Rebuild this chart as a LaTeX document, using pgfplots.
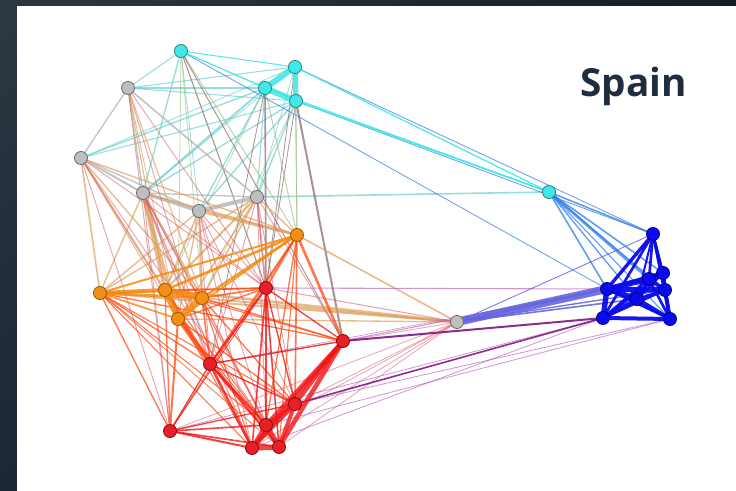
\documentclass[border=0pt]{standalone}
\usepackage{pgfplots}
\pgfplotsset{compat=1.18}
\usetikzlibrary{shadings}
\usepackage{fontspec}
\newfontfamily\titlefont{Open Sans}
\definecolor{bgUL}{RGB}{46,56,67}
\definecolor{bgLL}{RGB}{28,38,52}
\definecolor{bgUR}{RGB}{19,28,40}
\definecolor{bgLR}{RGB}{16,24,36}
\definecolor{ccC}{HTML}{3EE6E6}
\definecolor{cgC}{HTML}{6CCFCF}
\definecolor{cbC}{HTML}{2F7DE8}
\definecolor{coC}{HTML}{9FC08A}
\definecolor{crC}{HTML}{8A6F6F}
\definecolor{ggC}{HTML}{B5B5B5}
\definecolor{goC}{HTML}{DF9F5C}
\definecolor{grC}{HTML}{D65A6C}
\definecolor{gbC}{HTML}{6464E0}
\definecolor{ooC}{HTML}{F58A10}
\definecolor{orC}{HTML}{FF4A10}
\definecolor{rrC}{HTML}{F21414}
\definecolor{rbC}{HTML}{7A087A}
\definecolor{rblC}{HTML}{B050B8}
\definecolor{bbC}{HTML}{0A0AEE}
\definecolor{titleC}{HTML}{1F2D3F}
\definecolor{nC}{RGB}{64,232,232}\definecolor{nCd}{RGB}{40,130,130}
\definecolor{nG}{RGB}{190,190,190}\definecolor{nGd}{RGB}{105,105,105}
\definecolor{nO}{RGB}{243,144,20}\definecolor{nOd}{RGB}{150,85,15}
\definecolor{nR}{RGB}{232,30,40}\definecolor{nRd}{RGB}{130,15,15}
\definecolor{nB}{RGB}{10,10,238}\definecolor{nBd}{RGB}{0,0,120}
\pgfplotsset{
 cc/.style={color=ccC,opacity=0.85},
 cg/.style={color=cgC,opacity=0.7},
 cb/.style={color=cbC,opacity=0.75},
 co/.style={color=coC,opacity=0.65},
 cr/.style={color=crC,opacity=0.75},
 gg/.style={color=ggC,opacity=0.8},
 go/.style={color=goC,opacity=0.7},
 gr/.style={color=grC,opacity=0.55},
 gb/.style={color=gbC,opacity=0.9},
 oo/.style={color=ooC,opacity=0.85},
 or/.style={color=orC,opacity=0.75},
 rr/.style={color=rrC,opacity=0.8},
 rb/.style={color=rbC,opacity=0.85},
 rbl/.style={color=rblC,opacity=0.6},
 bb/.style={color=bbC,opacity=0.95},
}
\newcommand\E[3]{\addplot[#1,line width=#2pt] coordinates {#3};}
\begin{document}
\begin{tikzpicture}
\shade[upper left=bgUL, lower left=bgLL, upper right=bgUR, lower right=bgLR]
  (0,0) rectangle (552pt,368.25pt);
\fill[white] (12.75pt,0) rectangle (552pt,363.75pt);
\begin{axis}[at={(0,0)}, anchor=south west, scale only axis, width=552pt, height=368.25pt,
  xmin=0, xmax=736, ymin=0, ymax=491, y dir=reverse, axis lines=none, clip=false]
% cyan-gray
\E{cg}{0.8}{(128,88)(295,67)}
\E{cg}{1}{(128,88)(265,88)}
\E{cg}{0.8}{(128,88)(296,101)}
\E{cg}{0.8}{(128,88)(181,51)}
\E{cg}{1}{(81,158)(265,88)}
\E{cg}{0.8}{(81,158)(296,101)}
\E{cg}{0.6}{(81,158)(295,67)}
\E{cg}{1.5}{(143,193)(265,88)}
\E{cg}{1}{(143,193)(296,101)}
\E{cg}{1}{(143,193)(181,51)}
\E{cg}{0.6}{(143,193)(295,67)}
\E{cg}{1}{(199,211)(265,88)}
\E{cg}{1}{(199,211)(296,101)}
\E{cg}{0.6}{(199,211)(181,51)}
\E{cg}{0.8}{(257,197)(265,88)}
\E{cg}{1}{(257,197)(296,101)}
\E{cg}{0.6}{(257,197)(295,67)}
\E{cg}{1.2}{(257,197)(549,192)}
% cyan-orange
\E{co}{0.8}{(181,51)(297,235)}
\E{co}{0.6}{(181,51)(202,298)}
\E{co}{0.8}{(265,88)(297,235)}
\E{co}{0.8}{(296,101)(297,235)}
\E{co}{0.6}{(295,67)(297,235)}
\E{co}{0.6}{(265,88)(165,290)}
\E{co}{0.6}{(296,101)(202,298)}
\E{co}{0.6}{(181,51)(178,319)}
% cyan-red
\E{cr}{1.2}{(265,88)(266,288)}
\E{cr}{1.5}{(296,101)(343,341)}
\E{cr}{0.8}{(181,51)(266,288)}
\E{cr}{0.7}{(181,51)(343,341)}
\E{cr}{0.6}{(265,88)(210,364)}
\E{cr}{0.6}{(296,101)(266,288)}
\E{cr}{0.6}{(295,67)(266,288)}
% gray-gray
\E{gg}{1}{(128,88)(81,158)}
\E{gg}{1}{(128,88)(143,193)}
\E{gg}{1.2}{(128,88)(257,197)}
\E{gg}{1.5}{(81,158)(143,193)}
\E{gg}{1}{(81,158)(199,211)}
\E{gg}{2.5}{(143,193)(199,211)}
\E{gg}{1}{(143,193)(257,197)}
\E{gg}{3}{(199,211)(257,197)}
% gray-orange
\E{go}{0.8}{(128,88)(165,290)}
\E{go}{0.8}{(128,88)(202,298)}
\E{go}{0.6}{(128,88)(178,319)}
\E{go}{1.2}{(81,158)(100,293)}
\E{go}{1}{(81,158)(165,290)}
\E{go}{1}{(81,158)(202,298)}
\E{go}{0.8}{(81,158)(178,319)}
\E{go}{1}{(81,158)(297,235)}
\E{go}{1}{(143,193)(100,293)}
\E{go}{2.5}{(143,193)(165,290)}
\E{go}{1.5}{(143,193)(202,298)}
\E{go}{2.5}{(143,193)(178,319)}
\E{go}{1.5}{(143,193)(297,235)}
\E{go}{1.2}{(199,211)(165,290)}
\E{go}{1.5}{(199,211)(202,298)}
\E{go}{1}{(199,211)(178,319)}
\E{go}{2}{(199,211)(297,235)}
\E{go}{1}{(199,211)(100,293)}
\E{go}{1}{(257,197)(100,293)}
\E{go}{1.5}{(257,197)(165,290)}
\E{go}{1.2}{(257,197)(202,298)}
\E{go}{1}{(257,197)(178,319)}
\E{go}{1}{(257,197)(297,235)}
\E{go}{1.5}{(457,322)(100,293)}
\E{go}{2}{(457,322)(165,290)}
\E{go}{1.5}{(457,322)(202,298)}
\E{go}{1}{(457,322)(178,319)}
\E{go}{1.2}{(457,322)(297,235)}
% gray-red
\E{gr}{0.7}{(128,88)(266,288)}
\E{gr}{0.7}{(128,88)(210,364)}
\E{gr}{0.7}{(128,88)(170,431)}
\E{gr}{0.7}{(81,158)(266,288)}
\E{gr}{0.7}{(81,158)(210,364)}
\E{gr}{0.7}{(81,158)(170,431)}
\E{gr}{0.7}{(81,158)(266,425)}
\E{gr}{0.7}{(143,193)(266,288)}
\E{gr}{1.2}{(143,193)(210,364)}
\E{gr}{0.7}{(143,193)(170,431)}
\E{gr}{0.7}{(143,193)(266,425)}
\E{gr}{1}{(143,193)(252,448)}
\E{gr}{0.7}{(143,193)(279,447)}
\E{gr}{0.7}{(199,211)(266,288)}
\E{gr}{0.7}{(199,211)(210,364)}
\E{gr}{0.7}{(199,211)(295,404)}
\E{gr}{0.7}{(199,211)(266,425)}
\E{gr}{0.7}{(199,211)(252,448)}
\E{gr}{1.2}{(257,197)(266,288)}
\E{gr}{0.7}{(257,197)(343,341)}
\E{gr}{0.7}{(257,197)(210,364)}
\E{gr}{0.7}{(257,197)(295,404)}
\E{gr}{0.7}{(257,197)(266,425)}
\E{gr}{0.7}{(257,197)(279,447)}
\E{gr}{0.8}{(457,322)(266,288)}
\E{gr}{0.6}{(457,322)(210,364)}
\E{gr}{0.6}{(457,322)(295,404)}
\E{gr}{0.6}{(457,322)(170,431)}
\E{gr}{0.6}{(457,322)(266,425)}
\E{gr}{0.6}{(457,322)(252,448)}
\E{gr}{0.6}{(457,322)(279,447)}
% cyan-blue
\E{cb}{0.6}{(181,51)(607,289)}
\E{cb}{0.6}{(295,67)(653,234)}
\E{cb}{0.6}{(296,101)(653,234)}
\E{cb}{1.2}{(549,192)(653,234)}
\E{cb}{1.2}{(549,192)(663,273)}
\E{cb}{2}{(549,192)(649,279)}
\E{cb}{1}{(549,192)(665,290)}
\E{cb}{1.2}{(549,192)(607,289)}
\E{cb}{1}{(549,192)(637,299)}
\E{cb}{0.8}{(549,192)(670,319)}
% cyan-cyan
\E{cc}{0.8}{(181,51)(295,67)}
\E{cc}{0.7}{(181,51)(265,88)}
\E{cc}{0.6}{(181,51)(296,101)}
\E{cc}{1}{(295,67)(549,192)}
\E{cc}{0.8}{(265,88)(549,192)}
\E{cc}{1.2}{(296,101)(549,192)}
\E{cc}{4.5}{(295,67)(265,88)}
\E{cc}{4.5}{(265,88)(296,101)}
\E{cc}{4}{(295,67)(296,101)}
% red-blue
\E{rbl}{0.8}{(343,341)(607,289)}
\E{rbl}{0.8}{(266,288)(607,289)}
\E{rbl}{0.6}{(295,404)(670,319)}
\E{rbl}{0.6}{(266,425)(670,319)}
\E{rbl}{0.6}{(170,431)(603,318)}
\E{rbl}{0.6}{(252,448)(603,318)}
\E{rbl}{0.5}{(210,364)(607,289)}
\E{rb}{1.5}{(343,341)(603,318)}
\E{rb}{1.2}{(295,404)(603,318)}
% orange-red
\E{or}{1}{(100,293)(266,288)}
\E{or}{1}{(100,293)(343,341)}
\E{or}{1}{(100,293)(210,364)}
\E{or}{0.8}{(100,293)(295,404)}
\E{or}{1}{(100,293)(170,431)}
\E{or}{0.8}{(100,293)(266,425)}
\E{or}{0.8}{(100,293)(252,448)}
\E{or}{0.6}{(100,293)(279,447)}
\E{or}{1.2}{(165,290)(266,288)}
\E{or}{0.8}{(165,290)(343,341)}
\E{or}{2}{(165,290)(210,364)}
\E{or}{1}{(165,290)(170,431)}
\E{or}{0.8}{(165,290)(266,425)}
\E{or}{0.8}{(165,290)(252,448)}
\E{or}{1.2}{(202,298)(266,288)}
\E{or}{1}{(202,298)(343,341)}
\E{or}{1.2}{(202,298)(210,364)}
\E{or}{1}{(202,298)(295,404)}
\E{or}{0.8}{(202,298)(266,425)}
\E{or}{0.8}{(202,298)(252,448)}
\E{or}{2.5}{(178,319)(210,364)}
\E{or}{1.5}{(178,319)(170,431)}
\E{or}{1}{(178,319)(266,288)}
\E{or}{1}{(178,319)(295,404)}
\E{or}{0.8}{(178,319)(266,425)}
\E{or}{0.8}{(178,319)(279,447)}
\E{or}{1.5}{(297,235)(266,288)}
\E{or}{2}{(297,235)(343,341)}
\E{or}{1.2}{(297,235)(210,364)}
\E{or}{1.2}{(297,235)(295,404)}
\E{or}{1}{(297,235)(266,425)}
\E{or}{0.8}{(297,235)(170,431)}
\E{or}{0.8}{(297,235)(279,447)}
% orange-orange
\E{oo}{5}{(165,290)(202,298)}
\E{oo}{4}{(165,290)(178,319)}
\E{oo}{5}{(202,298)(178,319)}
\E{oo}{3}{(100,293)(165,290)}
\E{oo}{2}{(100,293)(202,298)}
\E{oo}{1.2}{(100,293)(178,319)}
\E{oo}{2}{(165,290)(297,235)}
\E{oo}{1.8}{(202,298)(297,235)}
\E{oo}{1.2}{(178,319)(297,235)}
\E{oo}{1.5}{(100,293)(297,235)}
% red-red
\E{rr}{1}{(266,288)(343,341)}
\E{rr}{1.5}{(266,288)(210,364)}
\E{rr}{1}{(266,288)(295,404)}
\E{rr}{1}{(266,288)(266,425)}
\E{rr}{1.2}{(266,288)(252,448)}
\E{rr}{1}{(266,288)(279,447)}
\E{rr}{0.6}{(266,288)(170,431)}
\E{rr}{1}{(343,341)(210,364)}
\E{rr}{3}{(343,341)(295,404)}
\E{rr}{3}{(343,341)(266,425)}
\E{rr}{3}{(343,341)(252,448)}
\E{rr}{3.5}{(343,341)(279,447)}
\E{rr}{1}{(210,364)(295,404)}
\E{rr}{1}{(210,364)(170,431)}
\E{rr}{1.5}{(210,364)(266,425)}
\E{rr}{2}{(210,364)(252,448)}
\E{rr}{1.5}{(210,364)(279,447)}
\E{rr}{2.5}{(295,404)(266,425)}
\E{rr}{3}{(295,404)(252,448)}
\E{rr}{3}{(295,404)(279,447)}
\E{rr}{1.2}{(170,431)(266,425)}
\E{rr}{1.5}{(170,431)(252,448)}
\E{rr}{1.2}{(170,431)(279,447)}
\E{rr}{1}{(170,431)(295,404)}
\E{rr}{3}{(266,425)(252,448)}
\E{rr}{4}{(266,425)(279,447)}
\E{rr}{4}{(252,448)(279,447)}
% gray-blue
\E{gb}{6}{(457,322)(607,289)}
\E{gb}{1.5}{(457,322)(649,279)}
\E{gb}{1}{(457,322)(665,290)}
\E{gb}{1.2}{(457,322)(637,299)}
\E{gb}{0.6}{(457,322)(653,234)}
% blue-blue
\E{bb}{2}{(653,234)(663,273)}
\E{bb}{2}{(653,234)(649,279)}
\E{bb}{2}{(653,234)(665,290)}
\E{bb}{2.5}{(653,234)(607,289)}
\E{bb}{1.5}{(653,234)(637,299)}
\E{bb}{2}{(653,234)(603,318)}
\E{bb}{2}{(653,234)(670,319)}
\E{bb}{3}{(663,273)(649,279)}
\E{bb}{3}{(663,273)(665,290)}
\E{bb}{3}{(663,273)(607,289)}
\E{bb}{2}{(663,273)(637,299)}
\E{bb}{2}{(663,273)(603,318)}
\E{bb}{2}{(663,273)(670,319)}
\E{bb}{3}{(649,279)(665,290)}
\E{bb}{4}{(649,279)(607,289)}
\E{bb}{2}{(649,279)(637,299)}
\E{bb}{2}{(649,279)(603,318)}
\E{bb}{2}{(649,279)(670,319)}
\E{bb}{4}{(665,290)(607,289)}
\E{bb}{2}{(665,290)(637,299)}
\E{bb}{2}{(665,290)(603,318)}
\E{bb}{3}{(665,290)(670,319)}
\E{bb}{4}{(607,289)(637,299)}
\E{bb}{4}{(607,289)(603,318)}
\E{bb}{2}{(607,289)(670,319)}
\E{bb}{3}{(637,299)(603,318)}
\E{bb}{3}{(637,299)(670,319)}
\E{bb}{3}{(603,318)(670,319)}
% nodes
\addplot[only marks, mark=*, mark size=4.9pt, mark options={fill=nC, draw=nCd, line width=0.6pt}]
 coordinates {(181,51)(295,67)(265,88)(296,101)(549,192)};
\addplot[only marks, mark=*, mark size=4.9pt, mark options={fill=nG, draw=nGd, line width=0.6pt}]
 coordinates {(128,88)(81,158)(143,193)(199,211)(257,197)(457,322)};
\addplot[only marks, mark=*, mark size=4.9pt, mark options={fill=nO, draw=nOd, line width=0.6pt}]
 coordinates {(100,293)(165,290)(202,298)(178,319)(297,235)};
\addplot[only marks, mark=*, mark size=4.9pt, mark options={fill=nR, draw=nRd, line width=0.6pt}]
 coordinates {(266,288)(343,341)(210,364)(295,404)(170,431)(266,425)(252,448)(279,447)};
\addplot[only marks, mark=*, mark size=4.9pt, mark options={fill=nB, draw=nBd, line width=0.6pt}]
 coordinates {(653,234)(663,273)(649,279)(665,290)(607,289)(637,299)(603,318)(670,319)};
\node[anchor=base west, inner sep=0pt, text=titleC, font=\titlefont\bfseries\fontsize{29}{32}\selectfont] at (axis cs:580,97) {Spain};
\end{axis}
\end{tikzpicture}
\end{document}
